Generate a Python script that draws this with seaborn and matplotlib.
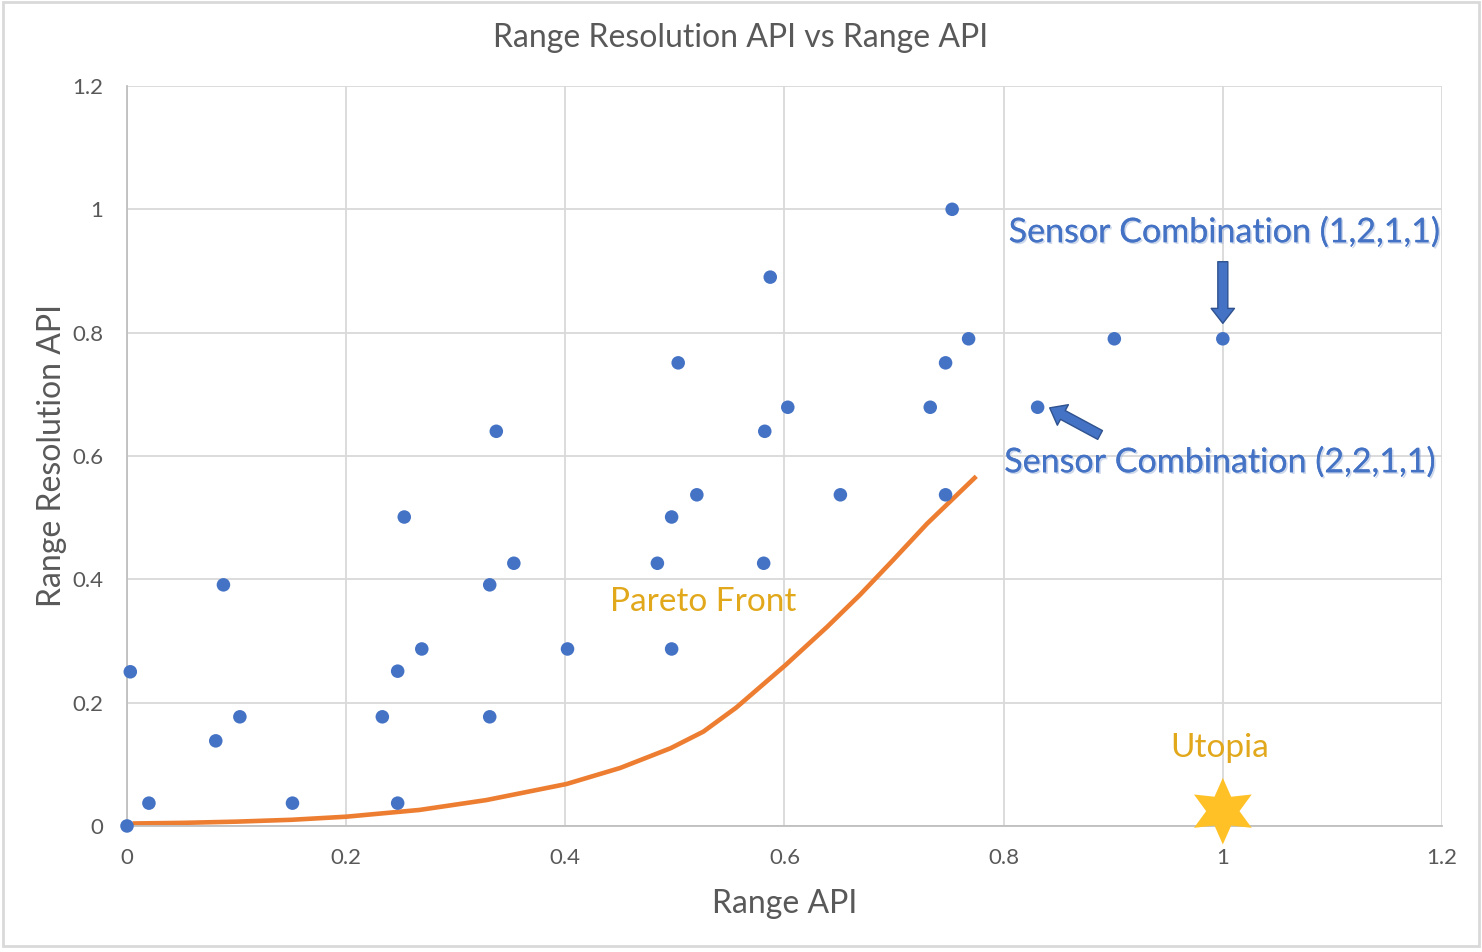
import numpy as np
import pandas as pd
import seaborn as sns
import matplotlib.pyplot as plt
import matplotlib.patheffects as pe
from matplotlib.patches import Rectangle

# Sensor combinations
range_api = [0.0, 0.003, 0.02, 0.081, 0.088, 0.103, 0.151, 0.233, 0.247, 0.247,
             0.253, 0.269, 0.331, 0.331, 0.337, 0.353, 0.402, 0.484, 0.497, 0.497,
             0.503, 0.520, 0.581, 0.582, 0.587, 0.603, 0.651, 0.733, 0.747, 0.747,
             0.753, 0.768, 0.831, 0.901, 1.0]
range_res_api = [0.0, 0.25, 0.037, 0.138, 0.391, 0.177, 0.037, 0.177, 0.251, 0.037,
                 0.501, 0.287, 0.391, 0.177, 0.640, 0.426, 0.287, 0.426, 0.501, 0.287,
                 0.751, 0.537, 0.426, 0.640, 0.890, 0.679, 0.537, 0.679, 0.537, 0.751,
                 1.0, 0.790, 0.679, 0.790, 0.790]

# Pareto front curve
pareto_x = [0.005, 0.05, 0.1, 0.15, 0.2, 0.267, 0.328, 0.401, 0.450, 0.496, 0.526,
            0.556, 0.601, 0.639, 0.669, 0.699, 0.730, 0.775]
pareto_y = [0.004, 0.005, 0.007, 0.010, 0.015, 0.026, 0.042, 0.068, 0.094, 0.126, 0.153,
            0.192, 0.261, 0.323, 0.375, 0.431, 0.490, 0.567]

utopia_x = [1.0]
utopia_y = [0.024]

ticks = [0, 0.2, 0.4, 0.6, 0.8, 1, 1.2]
tick_labels = ["0", "0.2", "0.4", "0.6", "0.8", "1", "1.2"]

blue = "#4472C4"
orange = "#ED7D31"
gold = "#E2A81B"
grey_txt = "#595959"

sns.set_theme(style="whitegrid")
plt.rcParams['font.family'] = ['Lato', 'DejaVu Sans']

points = pd.DataFrame({"x": range_api, "y": range_res_api})
front = pd.DataFrame({"x": pareto_x, "y": pareto_y})

fig = plt.figure(figsize=(14.82, 9.52), dpi=100)
ax = fig.add_axes([0.0857, 0.1324, 0.8873, 0.7773])

sns.lineplot(data=front, x="x", y="y", sort=False, color=orange, linewidth=3.3, ax=ax,
             zorder=2, solid_joinstyle="round", solid_capstyle="butt")
sns.scatterplot(data=points, x="x", y="y", color=blue, s=95, edgecolor="none", ax=ax,
                zorder=3, clip_on=False)
ax.scatter(utopia_x, utopia_y, marker=(6, 1, 0), s=48**2, color="#FFC125",
           edgecolor="none", zorder=4, clip_on=False)

ax.set_xlim(0, 1.2)
ax.set_ylim(0, 1.2)
ax.set_xticks(ticks)
ax.set_xticklabels(tick_labels)
ax.set_yticks(ticks)
ax.set_yticklabels(tick_labels)
ax.tick_params(axis="both", length=0, labelsize=16, labelcolor=grey_txt)
ax.tick_params(axis="x", pad=16)
ax.tick_params(axis="y", pad=17)
ax.grid(True, color="#D9D9D9", linewidth=1.3)
for side in ["top", "right"]:
    ax.spines[side].set_visible(False)
for side in ["left", "bottom"]:
    ax.spines[side].set_color("#BFBFBF")
    ax.spines[side].set_linewidth(1.3)

ax.set_xlabel("Range API", fontsize=23, color=grey_txt, labelpad=15)
ax.set_ylabel("Range Resolution API", fontsize=23, color=grey_txt, labelpad=4)
fig.text(0.5, 1 - 38 / 952, "Range Resolution API vs Range API", fontsize=23,
         color=grey_txt, ha="center", va="center")

# annotations
shadow = [pe.withSimplePatchShadow(offset=(1.2, -1.2), shadow_rgbFace="#9FB3D9", alpha=0.5),
          pe.Normal()]
ax.text(1.001, 0.963, "Sensor Combination (1,2,1,1)", fontsize=24.5, color=blue,
        ha="center", va="center", path_effects=shadow)
ax.text(0.997, 0.590, "Sensor Combination (2,2,1,1)", fontsize=24.5, color=blue,
        ha="center", va="center", path_effects=shadow)
ax.text(0.997, 0.126, "Utopia", fontsize=24, color=gold, ha="center", va="center")
ax.text(0.526, 0.363, "Pareto Front", fontsize=24, color=gold, ha="center", va="center")

arrow_style = "simple,head_width=1.4,head_length=0.9,tail_width=0.6"
ax.annotate("", xy=(1.0, 0.815), xytext=(1.0, 0.915),
            arrowprops=dict(arrowstyle=arrow_style, fc=blue, ec="#2F528F", lw=1,
                            shrinkA=0, shrinkB=0))
ax.annotate("", xy=(0.842, 0.678), xytext=(0.888, 0.634),
            arrowprops=dict(arrowstyle=arrow_style, fc=blue, ec="#2F528F", lw=1,
                            shrinkA=0, shrinkB=0))

# chart border
fig.patches.append(Rectangle((0.002, 0.006), 0.996, 0.992, transform=fig.transFigure,
                             fill=False, edgecolor="#D9D9D9", linewidth=2))

fig.savefig("out.png", dpi=100)
